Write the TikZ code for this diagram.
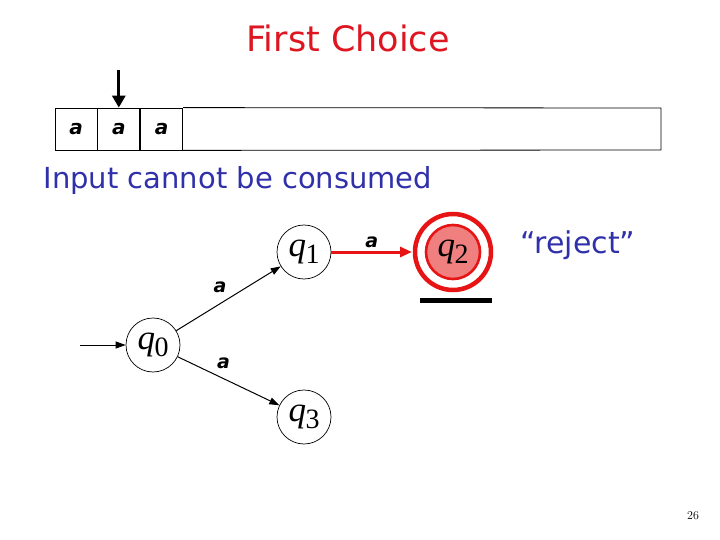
\documentclass[tikz,border=0pt]{standalone}
\usepackage{fontspec}
\usepackage{tikz}
\usetikzlibrary{arrows.meta, calc, positioning}
\newfontfamily\comicfont{DejaVu Sans}
\newfontfamily\statefont{Liberation Serif}
\newcommand\stlabel[1]{\textit{q}\kern-0.5pt\raisebox{-0.2em}{\fontsize{28}{28}\selectfont #1}}
\definecolor{titlered}{RGB}{222,22,34}
\definecolor{textblue}{RGB}{48,48,170}
\definecolor{acceptred}{RGB}{230,20,20}
\definecolor{acceptfill}{RGB}{240,128,128}
\tikzset{
    cell/.style        = {draw, line width = 0.8pt, minimum width = 42pt, minimum height = 42pt, inner sep = 0pt, font = \comicfont\itshape\bfseries\fontsize{20}{20}\selectfont},
    state/.style       = {draw, circle, line width = 0.7pt, minimum size = 54pt, inner sep = 0pt, font = \statefont\fontsize{35}{35}\selectfont},
    final/.style       = {state, draw = acceptred, fill = acceptfill, line width = 2.6pt, minimum size = 54pt},
    ring/.style        = {draw = acceptred, line width = 4.5pt},
    trans/.style       = {draw, line width = 1pt, -{Triangle[length = 10pt, width = 7pt]}},
    red trans/.style   = {draw = acceptred, line width = 3pt, -{Triangle[length = 12pt, width = 10pt]}},
    edge label/.style  = {font = \comicfont\itshape\bfseries\fontsize{19}{19}\selectfont, inner sep = 1pt},
    title/.style       = {font = \comicfont\fontsize{35}{35}\selectfont, text = titlered},
    note/.style        = {font = \comicfont\fontsize{29}{29}\selectfont, text = textblue}
}

\begin{document}
\begin{tikzpicture}[x=1pt, y=-1pt]
		\useasboundingbox (0,0) rectangle (720,540);

		\node[title] (title) at (348,38) {First Choice};

		% tape
		\node[cell] (c1) at (76,129) {a};
		\node[cell, right=0pt of c1] (c2) {a};
		\node[cell, right=0pt of c2] (c3) {a};
		\draw[line width=0.8pt] (c3.north east) -- (661,108) -- (661,150) -- (c3.south east);
		\coordinate (head) at (c2.north |- 0,70);
		\draw[line width=3pt, -{Triangle[length=12pt, width=13pt]}] (head) -- (c2.north);

		\node[note, anchor=west] (msg) at (40,180) {Input cannot be consumed};

		% automaton
		\node[state] (q0) at (153,345) {\stlabel{0}};
		\node[state] (q1) at (304,252) {\stlabel{1}};
		\node[final] (q2) at (453,252) {\stlabel{2}};
		\node[state] (q3) at (304,417) {\stlabel{3}};
		\draw[ring] (q2) circle (38);
		\coordinate (start) at (80,345);

		\draw[trans] (start) -- (q0);
		\draw[trans] (q0) -- node[edge label, above=9pt, pos=0.42] {a} (q1);
		\draw[trans] (q0) -- node[edge label, above=8pt, pos=0.45] {a} (q3);
		\draw[red trans] (q1) -- node[edge label, above=2pt] {a} ($(q2)+(-41,0)$);

		\draw[line width=5pt] ($(q2)+(-33,48)$) -- ++(72,0);
		\node[note, font=\comicfont\fontsize{30}{30}\selectfont] (verdict) at (578,245) {“reject”};

		\node[font=\fontsize{12}{12}\selectfont] (page) at (693,516) {26};
	\end{tikzpicture}
\end{document}
